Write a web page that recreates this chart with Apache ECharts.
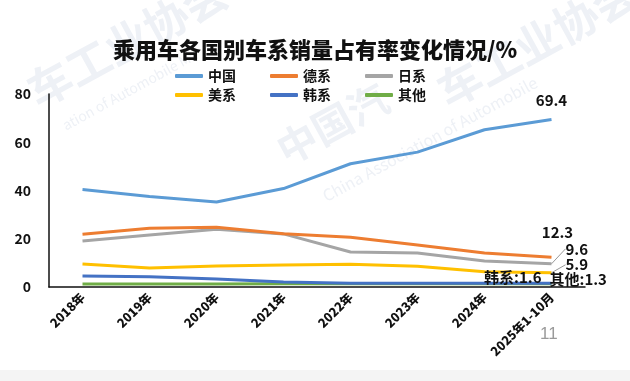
<!DOCTYPE html>
<html><head><meta charset="utf-8">
<script src="https://cdn.jsdelivr.net/npm/echarts@6/dist/echarts.min.js"></script>
<style>html,body{margin:0;padding:0;background:#fff}#c{width:630px;height:381px}</style>
</head><body><div id="c"></div>
<script>
var categories = ['2018年','2019年','2020年','2021年','2022年','2023年','2024年','2025年1-10月'];
var china  = [40.4, 37.5, 35.2, 40.8, 51.1, 55.9, 65.2, 69.4];
var german = [21.9, 24.4, 24.8, 22.1, 20.6, 17.4, 14.1, 12.3];
var japan  = [19.1, 21.6, 23.9, 22.0, 14.5, 14.1, 10.8, 9.6];
var usa    = [9.5, 7.9, 8.7, 9.1, 9.4, 8.6, 6.3, 5.9];
var korea  = [4.6, 4.2, 3.3, 2.1, 1.6, 1.6, 1.6, 1.6];
var other  = [1.2, 1.2, 1.2, 1.3, 1.3, 1.3, 1.3, 1.3];
var yTicks = [0, 20, 40, 60, 80];

var FONT = '"Noto Sans CJK SC", "Noto Sans", sans-serif';
var chart = echarts.init(document.getElementById('c'));

function lastLabel(arr, labelOpt){
  return arr.map(function(v,i){
    if(i===arr.length-1) return {value:v, label: Object.assign({show:true, color:'#111', fontWeight:'bold', fontSize:15, fontFamily:FONT}, labelOpt)};
    return v;
  });
}
function mk(name, color, data, labelOpt, extra){
  return Object.assign({
    name:name, type:'line', data: lastLabel(data, labelOpt), showSymbol:true, symbol:'circle', symbolSize:0,
    lineStyle:{color:color, width:3}, itemStyle:{color:color}, smooth:false, z: 2
  }, extra||{});
}
var legendText = {fontSize:14, fontWeight:'bold', color:'#111', fontFamily:FONT};
var wm = '#eef1f6';
chart.setOption({
  animation:false,
  backgroundColor:'#fff',
  title:{text:'乘用车各国别车系销量占有率变化情况/%', left:'center', top:34,
    textStyle:{fontSize:22, fontWeight:900, color:'#111', fontFamily:FONT}},
  legend:[
    {data:['中国','德系','日系'], left:170, top:64, itemWidth:28, itemHeight:4, itemGap:34, icon:'roundRect', textStyle:legendText},
    {data:['美系','韩系','其他'], left:170, top:83, itemWidth:28, itemHeight:4, itemGap:34, icon:'roundRect', textStyle:legendText}
  ],
  grid:{left:49, right:45, top:94, bottom:94, containLabel:false},
  xAxis:{type:'category', data:categories, boundaryGap:true,
    axisLine:{lineStyle:{color:'#111', width:1.5}}, axisTick:{show:false},
    axisLabel:{rotate:45, fontSize:12.5, fontWeight:900, color:'#111', fontFamily:FONT, margin:8, interval:0}},
  yAxis:{type:'value', min:0, max:80, interval:20,
    axisLine:{show:true, lineStyle:{color:'#111', width:1.5}}, axisTick:{show:false}, splitLine:{show:false},
    axisLabel:{fontSize:14, fontWeight:'bold', color:'#111', fontFamily:FONT, margin:18}},
  graphic:[
    {type:'text', x:20, y:75, rotation:0.5, z:-1, style:{text:'车工业协会', fontSize:44, fontWeight:'bold', fill:wm, fontFamily:FONT}},
    {type:'text', x:430, y:75, rotation:0.5, z:-1, style:{text:'车工业协会', fontSize:44, fontWeight:'bold', fill:wm, fontFamily:FONT}},
    {type:'text', x:270, y:135, rotation:0.5, z:-1, style:{text:'中国汽', fontSize:40, fontWeight:'bold', fill:wm, fontFamily:FONT}},
    {type:'text', x:320, y:190, rotation:0.5, z:-1, style:{text:'China Association of Automobile', fontSize:16, fill:wm, fontFamily:FONT}},
    {type:'text', x:60, y:120, rotation:0.5, z:-1, style:{text:'ation of Automobile Ma', fontSize:14, fill:wm, fontFamily:FONT}},
    {type:'rect', left:0, top:370, shape:{width:630, height:11}, style:{fill:'#f4f4f4'}},
    {type:'text', left:540, top:326, style:{text:'11', fontSize:17, fill:'#9a9a9a', fontFamily:'"Liberation Sans", sans-serif'}}
  ],
  series:[
    mk('其他', '#70AD47', other, {position:'right', distance:0, offset:[-2,-5], formatter:'其他:1.3'}),
    mk('韩系', '#4472C4', korea, {position:'left', distance:10, offset:[0,-6], formatter:'韩系:1.6'}),
    mk('美系', '#FFC000', usa, {position:'right', distance:4, formatter:'5.9'}, {
      labelLayout:{dx:10, dy:-8}, labelLine:{show:true, lineStyle:{color:'#999', width:1}}}),
    mk('日系', '#A5A5A5', japan, {position:'right', distance:4, formatter:'9.6'}, {
      labelLayout:{dx:10, dy:-15}, labelLine:{show:true, lineStyle:{color:'#999', width:1}}}),
    mk('德系', '#ED7D31', german, {position:'top', distance:18, offset:[6,0], formatter:'12.3'}),
    mk('中国', '#5B9BD5', china, {position:'top', distance:12, offset:[0,0], formatter:'69.4'})
  ]
});
</script></body></html>
